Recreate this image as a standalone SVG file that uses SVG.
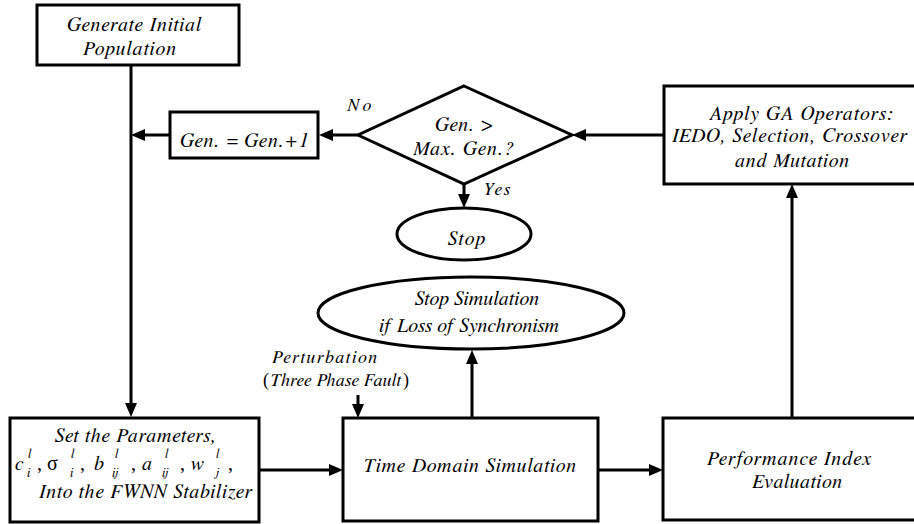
<svg xmlns="http://www.w3.org/2000/svg" width="914" height="524" viewBox="0 0 914 524">
<style>
.box{fill:#fff;stroke:#000;stroke-width:3}
.ln{fill:none;stroke:#000;stroke-width:3;marker-end:url(#ah)}
text{font-size:20px;fill:#000}
.s{font-size:13px}
.m{font-size:18px}
</style>
<defs>
<marker id="ah" markerUnits="userSpaceOnUse" markerWidth="14" markerHeight="12" refX="8" refY="6" orient="auto">
<path d="M0,0 L14,6 L0,12 z" fill="#000"/>
</marker>
</defs>
<rect width="914" height="524" fill="#fff"/>
<g id="connectors">
<path class="ln" d="M131,65 V411"/>
<path class="ln" d="M170,135 H137"/>
<path class="ln" d="M358,135 H325"/>
<path class="ln" d="M664,135 H578"/>
<path class="ln" d="M464,184 V202"/>
<path class="ln" d="M259,470 H337"/>
<path class="ln" d="M358,395 V412"/>
<path class="ln" d="M472,418 V356"/>
<path class="ln" d="M598,470 H657"/>
<path class="ln" d="M792,418 V190"/>
</g>
<g id="generate" font-family="FreeSerif" font-style="italic">
<rect class="box" x="37" y="5" width="202" height="60"/>
<text x="67" y="31" textLength="134" lengthAdjust="spacing">Generate Initial</text>
<text x="83" y="55" textLength="93" lengthAdjust="spacing">Population</text>
</g>
<g id="gen-increment" font-family="FreeSerif" font-style="italic">
<rect class="box" x="170" y="112" width="148" height="46"/>
<text x="180" y="147" textLength="129" lengthAdjust="spacing">Gen. = Gen.+1</text>
</g>
<g id="decision" font-family="FreeSerif" font-style="italic">
<polygon class="box" points="464,86 572,135 464,184 358,135"/>
<text x="435" y="131" textLength="57" lengthAdjust="spacing">Gen. &gt;</text>
<text x="413" y="155" textLength="100" lengthAdjust="spacing">Max. Gen.?</text>
<text class="m" x="347" y="111" textLength="24" lengthAdjust="spacing">No</text>
<text class="m" x="483" y="195" textLength="27" lengthAdjust="spacing">Yes</text>
</g>
<g id="apply-ga" font-family="FreeSerif" font-style="italic">
<rect class="box" x="664" y="86" width="260" height="98"/>
<text x="709" y="120" textLength="183" lengthAdjust="spacing">Apply GA Operators:</text>
<text x="672" y="142" textLength="235" lengthAdjust="spacing">IEDO, Selection, Crossover</text>
<text x="735" y="167" textLength="114" lengthAdjust="spacing">and Mutation</text>
</g>
<g id="stop" font-family="FreeSerif" font-style="italic">
<ellipse class="box" cx="464" cy="234" rx="67" ry="26"/>
<text x="448" y="245" textLength="37" lengthAdjust="spacing">Stop</text>
</g>
<g id="stop-simulation" font-family="FreeSerif" font-style="italic">
<ellipse class="box" cx="471" cy="313" rx="153" ry="36"/>
<text x="415" y="305" textLength="124" lengthAdjust="spacing">Stop Simulation</text>
<text x="379" y="332" textLength="180" lengthAdjust="spacing">if Loss of Synchronism</text>
</g>
<g id="perturbation" font-family="FreeSerif" font-style="italic">
<text class="m" x="272" y="363" textLength="105" lengthAdjust="spacing">Perturbation</text>
<text class="m" x="263" y="386" font-family="Liberation Serif" font-style="normal">(</text>
<text class="m" x="270" y="386" textLength="131" lengthAdjust="spacing">Three Phase Fault</text>
<text class="m" x="403" y="386" font-family="Liberation Serif" font-style="normal">)</text>
</g>
<g id="set-parameters" font-family="FreeSerif" font-style="italic">
<rect class="box" x="10" y="418" width="249" height="104"/>
<text x="55" y="442" textLength="161" lengthAdjust="spacing">Set the Parameters,</text>
<text x="15" y="470">c</text>
<text class="s" x="28" y="458">l</text>
<text class="s" x="27" y="477">i</text>
<text x="37" y="470" font-family="Liberation Serif" font-style="normal">,</text>
<text x="47" y="470" font-family="Liberation Serif" font-style="normal">σ</text>
<text class="s" x="71" y="458">l</text>
<text class="s" x="70" y="477">i</text>
<text x="80" y="470" font-family="Liberation Serif" font-style="normal">,</text>
<text x="94" y="470">b</text>
<text class="s" x="115" y="458">l</text>
<text class="s" x="112" y="477">ij</text>
<text x="131" y="470" font-family="Liberation Serif" font-style="normal">,</text>
<text x="142" y="470">a</text>
<text class="s" x="165" y="458">l</text>
<text class="s" x="162" y="477">ij</text>
<text x="180" y="470" font-family="Liberation Serif" font-style="normal">,</text>
<text x="190" y="470">w</text>
<text class="s" x="216" y="458">l</text>
<text class="s" x="215" y="477">j</text>
<text x="228" y="470" font-family="Liberation Serif" font-style="normal">,</text>
<text x="39" y="498" textLength="213" lengthAdjust="spacing">Into the FWNN Stabilizer</text>
</g>
<g id="time-domain" font-family="FreeSerif" font-style="italic">
<rect class="box" x="343" y="418" width="255" height="103"/>
<text x="363" y="472" textLength="213" lengthAdjust="spacing">Time Domain Simulation</text>
</g>
<g id="performance" font-family="FreeSerif" font-style="italic">
<rect class="box" x="663" y="418" width="261" height="102"/>
<text x="707" y="465" textLength="164" lengthAdjust="spacing">Performance Index</text>
<text x="752" y="488" textLength="90" lengthAdjust="spacing">Evaluation</text>
</g>
</svg>
